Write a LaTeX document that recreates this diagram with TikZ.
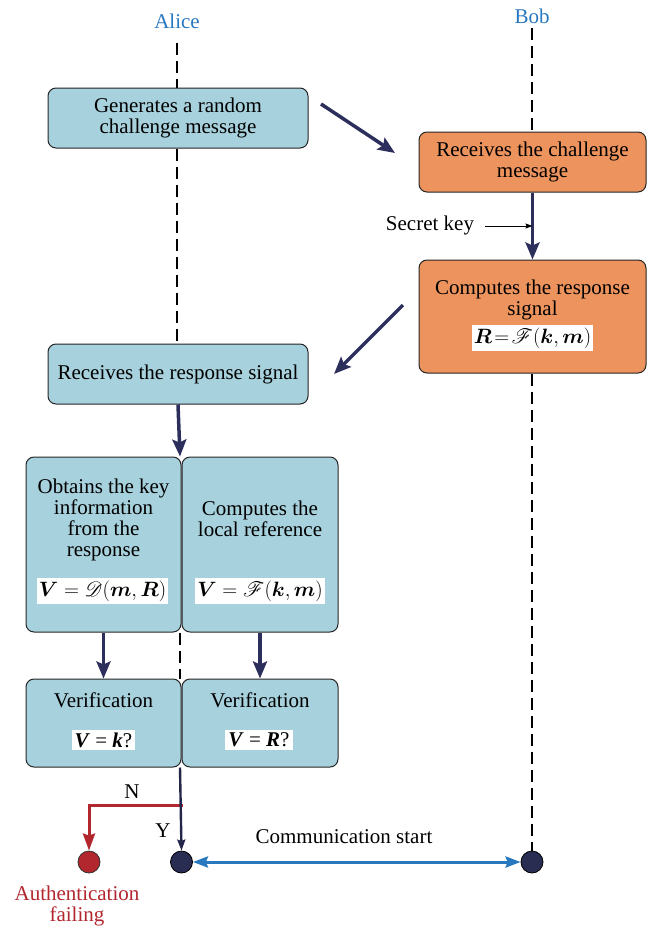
\documentclass[tikz,border=0pt]{standalone}
\usepackage{fontspec}
\setmainfont{Liberation Serif}
\usepackage{amsmath,amssymb,mathrsfs}
\usetikzlibrary{arrows.meta}
\definecolor{boxblue}{HTML}{A7D1DC}
\definecolor{boxorange}{HTML}{EC935E}
\definecolor{navy}{HTML}{2C2F5B}
\definecolor{lblue}{HTML}{2878C0}
\definecolor{fred}{HTML}{B2262E}
\definecolor{dotnavy}{HTML}{2A2D52}
\begin{document}
\begin{tikzpicture}[x=1pt,y=-1pt,
  font=\fontsize{21}{21}\selectfont,
  abox/.style={draw=black!85, line width=1pt, rounded corners=8pt, fill=boxblue},
  obox/.style={abox, fill=boxorange},
  txt/.style={align=center, inner sep=0pt},
  mbox/.style={fill=white, inner xsep=2pt, inner ysep=2.5pt},
  lifeline/.style={line width=1.5pt, dash pattern=on 12pt off 6pt},
  flow/.style={draw=navy, line width=3.5pt, -{Stealth[length=17pt,width=14pt,inset=3pt]}},
]
\useasboundingbox (0,0) rectangle (651,930);

% participants
\node[txt, text=lblue] (alice) at (177,21) {Alice};
\node[txt, text=lblue] (bob) at (532,16) {Bob};

% boxes
\node[abox, minimum width=260pt, minimum height=60pt, txt] (gen) at (178,118) {Generates a random\\challenge message};
\node[obox, minimum width=227pt, minimum height=60pt, txt] (recch) at (532.5,162) {Receives the challenge\\message};
\node[obox, minimum width=227pt, minimum height=113pt] (comp) at (532.5,316.5) {};
\node[txt] (compt) at (532.5,299.5) {Computes the response\\signal};
\node[mbox] (compm) at (532.5,338) {$\boldsymbol{R}\!=\!\mathscr{F}(\boldsymbol{k},\boldsymbol{m})$};
\node[abox, minimum width=260pt, minimum height=60pt, txt] (recresp) at (178,374) {Receives the response signal};

\node[abox, minimum width=155pt, minimum height=175pt] (obt) at (103.5,544.5) {};
\node[txt] (obtt) at (103.5,519.5) {Obtains the key\\information\\from the\\response};
\node[mbox] (obtm) at (102.5,591) {$\boldsymbol{V}=\mathscr{D}(\boldsymbol{m},\boldsymbol{R})$};
\node[abox, minimum width=156pt, minimum height=175pt] (loc) at (260,544.5) {};
\node[txt] (loct) at (260,518.5) {Computes the\\local reference};
\node[mbox] (locm) at (260,591) {$\boldsymbol{V}=\mathscr{F}(\boldsymbol{k},\boldsymbol{m})$};

\node[abox, minimum width=155pt, minimum height=88pt] (ver1) at (103.5,723) {};
\node[txt] (ver1t) at (103.5,700) {Verification};
\node[mbox, inner xsep=3pt] (ver1m) at (103.5,740) {\textbf{\textit{V}} = \textbf{\textit{k}}?};
\node[abox, minimum width=156pt, minimum height=88pt] (ver2) at (260,723) {};
\node[txt] (ver2t) at (260,700) {Verification};
\node[mbox, inner xsep=3pt] (ver2m) at (259,740) {\textbf{\textit{V}} = \textbf{\textit{R}}?};

% end dots
\node[circle, fill=fred, draw=black!80, line width=0.8pt, minimum size=22pt, inner sep=0pt] (fail) at (89,862) {};
\node[circle, fill=dotnavy, draw=black, line width=0.8pt, minimum size=22pt, inner sep=0pt] (adot) at (181.5,862) {};
\node[circle, fill=dotnavy, draw=black, line width=0.8pt, minimum size=22pt, inner sep=0pt] (bdot) at (532,862) {};

% labels
\node[txt] (nlab) at (132,792) {N};
\node[txt] (ylab) at (163,831) {Y};
\node[txt] (comm) at (344,837) {Communication start};
\node[txt, text=fred] (failt) at (77,906) {Authentication\\failing};
\node[txt] (skey) at (430,225) {Secret key};

% lifelines
\coordinate (aTop) at (177,43);
\coordinate (bTop) at (532,28);
\coordinate (ax) at (180,0);
\draw[lifeline] (aTop) -- (aTop |- gen.north);
\draw[lifeline] (aTop |- gen.south) -- (aTop |- recresp.north);
\draw[lifeline] (ax |- obt.south) -- (ax |- ver1.north);
\draw[lifeline] (bTop) -- (bTop |- recch.north);
\draw[lifeline] (bTop |- comp.south) -- (bdot.north);

% flow arrows
\coordinate (a1s) at (321,104);
\coordinate (a1e) at (395,153);
\draw[flow] (a1s) -- (a1e);
\coordinate (a2s) at (403,305);
\coordinate (a2e) at (334,374);
\draw[flow] (a2s) -- (a2e);
\draw[flow] (recch.south) -- (comp.north);
\draw[flow] (recresp.south) -- (ax |- obt.north);
\draw[flow] (obt.south) -- (ver1.north);
\draw[flow] (loc.south) -- (ver2.north);

% secret key
\coordinate (skS) at (485,226);
\draw[line width=0.9pt, -{Stealth[length=7pt,width=5pt,inset=1pt]}] (skS) -- (skS -| recch.south);

% N branch
\coordinate (nsplit) at (182.5,805);
\draw[fred, line width=3pt, -{Stealth[length=17pt,width=12pt,inset=2pt]}] (nsplit) -- (fail.north |- nsplit) -- (fail.north);

% Y branch
\draw[draw=navy!80!black, line width=2.4pt, -{Stealth[length=11pt,width=8pt,inset=1.5pt]}] (ax |- ver1.south) -- (adot.north);

% communication
\draw[lblue, line width=3pt, {Stealth[length=15pt,width=11pt,inset=2pt]}-{Stealth[length=15pt,width=11pt,inset=2pt]}] (adot.east) -- (bdot.west);
\end{tikzpicture}
\end{document}
